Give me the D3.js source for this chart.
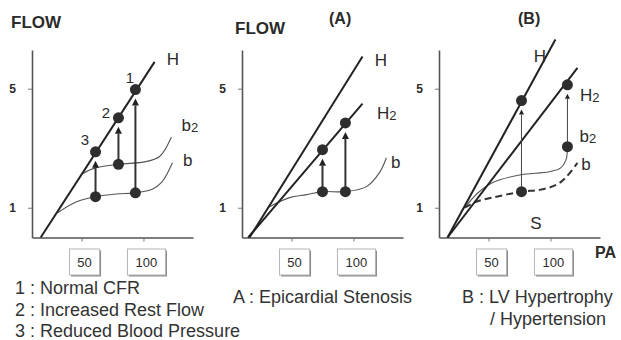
<!DOCTYPE html>
<html>
<head>
<meta charset="utf-8">
<script src="https://cdn.jsdelivr.net/npm/d3@7"></script>
<style>
  body { margin: 0; background: #fff; }
  svg { display: block; font-family: 'Liberation Sans', Arial, sans-serif; }
</style>
</head>
<body>
<div id="chart"></div>
<script>
// axis ticks shared by the three panels
const xTicks = [50, 100];
const yTicks = [1, 5];

// panel 1 : normal / rest flow / blood pressure
const p1H = [[17, 0], [109, 5.9]];
const p1B2 = [[51, 2.15], [61, 2.34], [80, 2.46], [102, 2.55], [113, 2.72], [122.6, 3.38]];
const p1B = [[30.6, 0.83], [46, 1.2], [61.3, 1.37], [78, 1.46], [93.5, 1.5], [107, 1.62], [115, 1.87], [123.4, 2.51]];
const p1ArrowX = [61.3, 79.8, 93.5];
const p1ArrowFrom = [1.37, 2.46, 1.5];
const p1ArrowTo = [2.88, 4.02, 4.97];
const p1Labels = [['H', 123.7, 6.01], ['b2', 137.4, 3.77], ['b', 135.8, 2.61], ['1', 89, 5.4], ['2', 69.7, 4.23], ['3', 52.7, 3.32]];

// panel 2 : (A) epicardial stenosis
const p2H = [[16.1, 0], [107.3, 6.08]];
const p2H2 = [[15, 0], [107.3, 4.5]];
const p2B = [[30.6, 1.0], [48.4, 1.34], [62, 1.44], [75, 1.54], [93.5, 1.54], [110.5, 1.71], [121, 2.18], [126.6, 2.68]];
const p2ArrowX = [75, 93.5];
const p2ArrowFrom = [1.54, 1.54];
const p2ArrowTo = [2.95, 3.85];
const p2Labels = [['H', 122.1, 5.97], ['H2', 126.9, 4.19], ['b', 134.2, 2.55]];

// panel 3 : (B) LV hypertrophy / hypertension
const p3H = [[16.9, 0], [104, 6.65]];
const p3H2 = [[16.9, 0], [121.8, 5.7]];
const p3B2 = [[30.6, 1.0], [42, 1.52], [53, 1.84], [75, 2.1], [99, 2.21], [108, 2.33], [112.5, 2.6], [113.7, 3.05]];
const p3B = [[30.6, 1.0], [40, 1.2], [53.2, 1.34], [76.6, 1.54], [91, 1.6], [104.8, 1.77], [112.9, 2.04], [121.8, 2.51]];
const p3ArrowX = [76.6, 113.7];
const p3ArrowFrom = [1.54, 3.05];
const p3ArrowTo = [4.6, 5.13];
const p3Labels = [['H', 91.5, 6.1], ['H2', 131.8, 4.8], ['b2', 130.2, 3.42], ['b', 128.6, 2.48], ['S', 88.2, 0.5]];

// captions
const captions1 = ['1 : Normal CFR', '2 : Increased Rest Flow', '3 : Reduced Blood Pressure'];
const captionA = ['A : Epicardial Stenosis'];
const captionB = ['B : LV Hypertrophy', '/ Hypertension'];

const width = 621, height = 340;
const ink = '#2b2b2b';

const svg = d3.select('#chart')
  .append('svg')
  .attr('width', width)
  .attr('height', height);

function drawPanel(x0, cfg) {
  const x = d3.scaleLinear().domain([10, 140]).range([x0, x0 + 161]);
  const y = d3.scaleLinear().domain([0, 6.3]).range([237.5, 50]);
  const g = svg.append('g');

  const yAxis = g.append('g')
    .attr('transform', `translate(${x0},0)`)
    .call(d3.axisLeft(y).tickValues(yTicks).tickFormat(d3.format('d')).tickSize(4).tickPadding(12).tickSizeOuter(0));
  const xAxis = g.append('g')
    .attr('transform', `translate(0,${y(0)})`)
    .call(d3.axisBottom(x).tickValues(xTicks).tickSize(4).tickFormat('').tickSizeOuter(0));
  [yAxis, xAxis].forEach(a => {
    a.select('.domain').attr('stroke', '#555').attr('stroke-width', 1.6);
    a.selectAll('.tick line').attr('stroke', '#777');
  });
  yAxis.selectAll('.tick text')
    .attr('fill', ink)
    .style('font-size', '12px')
    .style('font-weight', 'bold');

  // tick labels drawn as little boxes
  xTicks.forEach(v => {
    const w = v < 100 ? 30 : 38;
    const cx = x(v) + 3;
    const bx = g.append('g').attr('transform', `translate(${cx - w / 2},249)`);
    bx.append('rect').attr('x', 1.5).attr('y', 1.5).attr('width', w).attr('height', 26).attr('fill', '#8a8a8a');
    bx.append('rect').attr('width', w).attr('height', 26).attr('fill', '#fff').attr('stroke', '#b5b5b5');
    bx.append('text')
      .attr('x', w / 2).attr('y', 13)
      .attr('text-anchor', 'middle').attr('dominant-baseline', 'central')
      .attr('fill', ink).style('font-size', '13px')
      .text(v);
  });

  const straight = d3.line().x(d => x(d[0])).y(d => y(d[1]));
  const smooth = d3.line().x(d => x(d[0])).y(d => y(d[1])).curve(d3.curveCatmullRom.alpha(0.5));

  cfg.curves.forEach(c => {
    g.append('path')
      .datum(c.data)
      .attr('fill', 'none')
      .attr('stroke', c.dash ? '#333' : '#555')
      .attr('stroke-width', c.dash ? 2 : 1.1)
      .attr('stroke-dasharray', c.dash ? '7,4' : null)
      .attr('d', smooth);
  });
  cfg.lines.forEach(l => {
    g.append('path')
      .datum(l)
      .attr('fill', 'none')
      .attr('stroke', '#222')
      .attr('stroke-width', 2)
      .attr('d', straight);
  });

  // arrows from rest to hyperaemic flow
  cfg.arrowX.forEach((ax, i) => {
    const px = x(ax);
    const tip = y(cfg.arrowTo[i]) + 9;
    const hw = cfg.thin ? 2.5 : 3.5, hh = cfg.thin ? 5 : 7;
    g.append('line')
      .attr('x1', px).attr('x2', px)
      .attr('y1', y(cfg.arrowFrom[i])).attr('y2', tip + hh)
      .attr('stroke', cfg.thin ? '#444' : '#333')
      .attr('stroke-width', cfg.thin ? 1 : 2);
    g.append('path')
      .attr('d', `M${px},${tip}L${px - hw},${tip + hh}L${px + hw},${tip + hh}Z`)
      .attr('fill', '#222');
    [cfg.arrowFrom[i], cfg.arrowTo[i]].forEach(v => {
      g.append('circle')
        .attr('cx', px).attr('cy', y(v)).attr('r', 5.5)
        .attr('fill', '#2e2e2e');
    });
  });

  cfg.labels.forEach(([t, lx, ly]) => {
    const txt = g.append('text')
      .attr('x', x(lx)).attr('y', y(ly))
      .attr('text-anchor', 'middle').attr('dominant-baseline', 'central')
      .attr('fill', ink)
      .style('font-size', /^[123]$/.test(t) ? '15px' : '17px');
    txt.append('tspan').text(t[0]);
    if (t.length > 1) {
      txt.append('tspan').attr('dy', 2).style('font-size', '13px').text(t.slice(1));
    }
  });
  return { x, y };
}

drawPanel(32, { lines: [p1H], curves: [{ data: p1B2 }, { data: p1B }], arrowX: p1ArrowX, arrowFrom: p1ArrowFrom, arrowTo: p1ArrowTo, labels: p1Labels });
drawPanel(242, { lines: [p2H, p2H2], curves: [{ data: p2B }], arrowX: p2ArrowX, arrowFrom: p2ArrowFrom, arrowTo: p2ArrowTo, labels: p2Labels });
drawPanel(439, { lines: [p3H, p3H2], curves: [{ data: p3B2 }, { data: p3B, dash: true }], arrowX: p3ArrowX, arrowFrom: p3ArrowFrom, arrowTo: p3ArrowTo, labels: p3Labels, thin: true });

// titles
const bold = (t, px, py, size) => svg.append('text')
  .attr('x', px).attr('y', py)
  .attr('fill', ink)
  .style('font-size', size + 'px')
  .style('font-weight', 'bold')
  .text(t);
bold('FLOW', 11, 28, 17);
bold('FLOW', 235, 34, 17);
bold('(A)', 329, 24, 16);
bold('(B)', 518, 24, 16);
bold('PA', 595, 258, 16);

// captions below the panels
const caption = (lines, px, py) => lines.forEach((t, i) => {
  svg.append('text')
    .attr('x', px[i] !== undefined ? px[i] : px[0])
    .attr('y', py + i * 21.5)
    .attr('fill', '#333')
    .style('font-size', '18px')
    .text(t);
});
caption(captions1, [15], 294);
caption(captionA, [233], 303);
caption(captionB, [462, 490], 303);
</script>
</body>
</html>
